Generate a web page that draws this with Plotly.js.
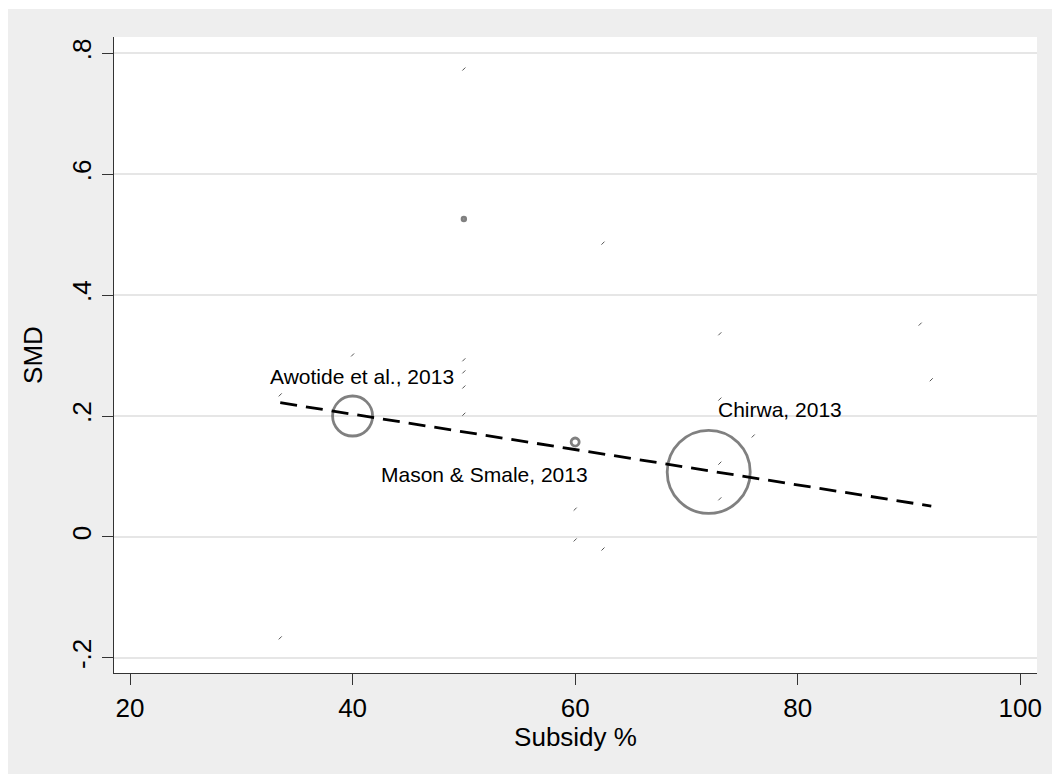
<!DOCTYPE html>
<html>
<head>
<meta charset="utf-8">
<script src="https://cdn.plot.ly/plotly-3.0.1.min.js"></script>
<style>
  html, body { margin: 0; padding: 0; background: #eeeeee; overflow: hidden; }
  #chart { position: absolute; left: 8px; top: 9px; width: 1044px; height: 765px; }
  #wtop { position: absolute; left: 0; top: 0; width: 1052px; height: 9px; background: #ffffff; }
  #wleft { position: absolute; left: 0; top: 0; width: 8px; height: 774px; background: #ffffff; }
</style>
</head>
<body>
<div id="wtop"></div>
<div id="wleft"></div>
<div id="chart"></div>
<script>
// ---- Data ----
const subsidy = [50, 50, 62.5, 40, 50, 50, 50, 50, 33.5, 40, 60, 72, 73, 91, 92, 73, 76, 73, 73, 60, 60, 62.5, 33.5];
const smd     = [0.774, 0.526, 0.486, 0.301, 0.293, 0.273, 0.248, 0.203, 0.235, 0.200, 0.157, 0.1075, 0.336, 0.352, 0.260, 0.228, 0.167, 0.122, 0.063, 0.046, -0.005, -0.020, -0.167];
// relative study weights (%), shown as bubble area
const weight  = [0.03, 0.15, 0.03, 0.03, 0.03, 0.03, 0.03, 0.03, 0.03, 18.5, 0.75, 79.7, 0.03, 0.03, 0.03, 0.03, 0.03, 0.03, 0.03, 0.03, 0.03, 0.03, 0.03];

// fitted meta-regression line (endpoints)
const fitX = [33.5, 92];
const fitY = [0.222, 0.051];

const labelText = ["Awotide et al., 2013", "Mason & Smale, 2013", "Chirwa, 2013"];

const xTicks = [20, 40, 60, 80, 100];
const yTicks = [-0.2, 0, 0.2, 0.4, 0.6, 0.8];
const yTickText = ["-.2", "0", ".2", ".4", ".6", ".8"];

// ---- Build marks ----
const scale = 9.3; // diameter per sqrt(weight)
const bigX = [], bigY = [], bigS = [];
const tinyX = [], tinyY = [];
for (let i = 0; i < subsidy.length; i++) {
  const d = Math.sqrt(weight[i]) * scale;
  if (d < 2.5) { tinyX.push(subsidy[i]); tinyY.push(smd[i]); }
  else { bigX.push(subsidy[i]); bigY.push(smd[i]); bigS.push(d); }
}

const FONT = "Liberation Sans, Arial, Helvetica, sans-serif";

const traces = [
  {
    x: tinyX, y: tinyY, type: "scatter", mode: "markers", hoverinfo: "skip",
    marker: { symbol: "line-ne", size: 3, line: { color: "#555555", width: 1 } }
  },
  {
    x: bigX, y: bigY, type: "scatter", mode: "markers", hoverinfo: "skip",
    marker: { symbol: "circle-open", size: bigS, color: "#4a4a4a", line: { color: "#4a4a4a", width: 2.8 } }
  },
  {
    x: fitX, y: fitY, type: "scatter", mode: "lines", hoverinfo: "skip",
    line: { color: "#000000", width: 2.8, dash: "17px,9px" }
  }
];

const layout = {
  width: 1044, height: 765,
  margin: { l: 106, r: 15, t: 28, b: 101, pad: 0 },
  paper_bgcolor: "#eeeeee",
  plot_bgcolor: "#ffffff",
  showlegend: false,
  font: { family: FONT, color: "#000000" },
  xaxis: {
    range: [18.562, 101.5],
    tickvals: xTicks, ticktext: xTicks.map(String),
    ticks: "outside", ticklen: 11, tickwidth: 1, tickcolor: "#333333",
    showline: true, linecolor: "#333333", linewidth: 1.3, mirror: false,
    showgrid: false, zeroline: false,
    tickfont: { family: FONT, size: 26, color: "#000000" },
    title: { text: "Subsidy %", font: { family: FONT, size: 26, color: "#000000" }, standoff: 2 }
  },
  yaxis: {
    range: [-0.2251, 0.827],
    tickvals: yTicks, ticktext: yTickText, tickangle: -90,
    ticks: "outside", ticklen: 11, tickwidth: 1, tickcolor: "#333333",
    showline: true, linecolor: "#333333", linewidth: 1.3,
    showgrid: true, gridcolor: "#e6e6e6", gridwidth: 2, zeroline: false,
    tickfont: { family: FONT, size: 26, color: "#000000" },
    title: { text: "SMD", font: { family: FONT, size: 26, color: "#000000" }, standoff: 17 }
  },
  annotations: [
    { x: 32.4, y: 0.266, xref: "x", yref: "y", text: labelText[0], showarrow: false,
      xanchor: "left", yanchor: "middle", font: { family: FONT, size: 21, color: "#000000" } },
    { x: 61.35, y: 0.1026, xref: "x", yref: "y", text: labelText[1], showarrow: false,
      xanchor: "right", yanchor: "middle", font: { family: FONT, size: 21, color: "#000000" } },
    { x: 72.7, y: 0.210, xref: "x", yref: "y", text: labelText[2], showarrow: false,
      xanchor: "left", yanchor: "middle", font: { family: FONT, size: 21, color: "#000000" } }
  ]
};

Plotly.newPlot("chart", traces, layout, { displayModeBar: false, staticPlot: true });
</script>
</body>
</html>
